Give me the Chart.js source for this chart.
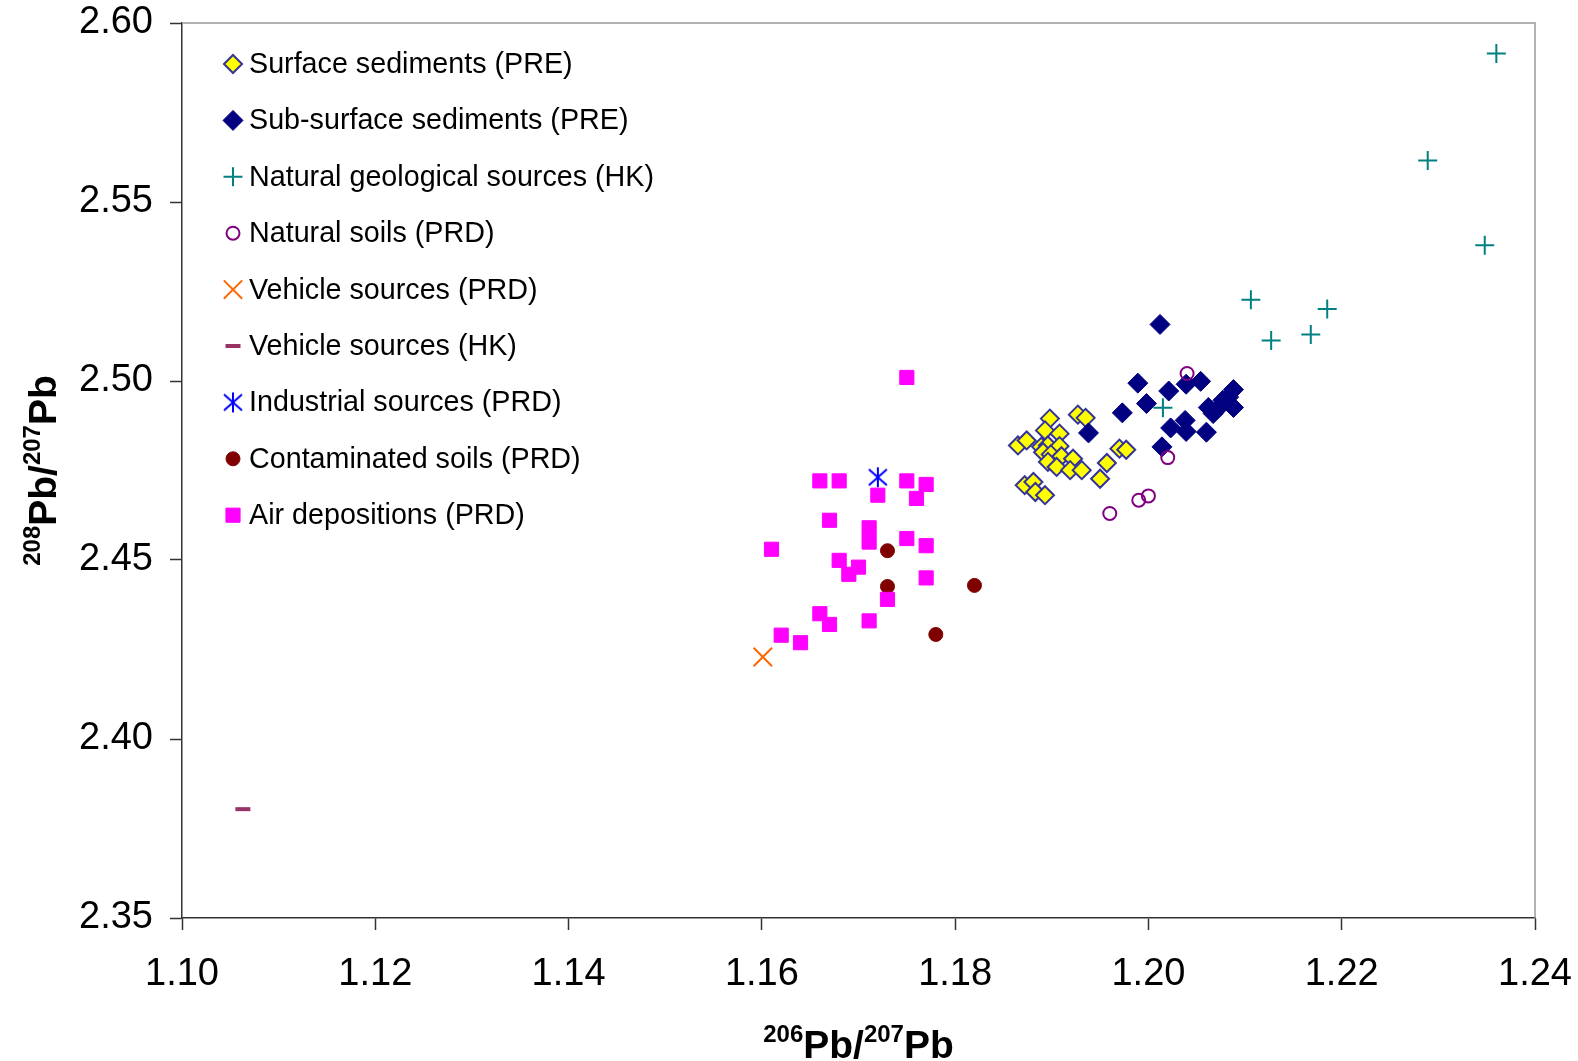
<!DOCTYPE html>
<html>
<head>
<meta charset="utf-8">
<script src="https://cdn.jsdelivr.net/npm/chart.js@4/dist/chart.umd.min.js"></script>
<style>
  html, body { margin: 0; padding: 0; background: #fff; }
  canvas { display: block; }
</style>
</head>
<body>
<canvas id="myChart" width="1578" height="1061"></canvas>
<script>
// values
const surfaceX = [1.1898, 1.1893, 1.1908, 1.1927, 1.1935, 1.1865, 1.1874, 1.1889, 1.1896, 1.1908, 1.1891, 1.1899, 1.1910,
                  1.1896, 1.1905, 1.1922, 1.1919, 1.1931, 1.1970, 1.1977, 1.1957, 1.1950, 1.1872, 1.1881, 1.1883, 1.1893];
const surfaceY = [2.4895, 2.4862, 2.4853, 2.4906, 2.4897, 2.4820, 2.4834, 2.4816, 2.4820, 2.4818, 2.4801, 2.4795, 2.4790,
                  2.4774, 2.4760, 2.4783, 2.4751, 2.4751, 2.4811, 2.4808, 2.4771, 2.4727, 2.4709, 2.4718, 2.4690, 2.4681];

const subSurfaceX = [1.2012, 1.1989, 1.2021, 1.2039, 1.2054, 1.1998, 1.1973, 1.1938, 1.2023, 1.2038,
                     1.2039, 1.2014, 1.2060, 1.2062, 1.2067, 1.2088, 1.2083, 1.2088, 1.2077, 1.2074];
const subSurfaceY = [2.5158, 2.4994, 2.4972, 2.4991, 2.4999, 2.4937, 2.4911, 2.4855, 2.4869, 2.4890,
                     2.4859, 2.4816, 2.4857, 2.4926, 2.4909, 2.4976, 2.4955, 2.4926, 2.4946, 2.4929];

const geoX = [1.2360, 1.2289, 1.2348, 1.2106, 1.2185, 1.2168, 1.2127, 1.2015];
const geoY = [2.5915, 2.5616, 2.5379, 2.5227, 2.5201, 2.5130, 2.5113, 2.4925];

const natSoilX = [1.2040, 1.2020, 1.2000, 1.1990, 1.1960];
const natSoilY = [2.5021, 2.4786, 2.4679, 2.4667, 2.4630];

const vehPrdX = [1.1601];
const vehPrdY = [2.4229];

const vehHkX = [1.1063];
const vehHkY = [2.3804];

const industX = [1.1720];
const industY = [2.4731];

const contamX = [1.1730, 1.1730, 1.1820, 1.1780];
const contamY = [2.4526, 2.4426, 2.4429, 2.4292];

const airX = [1.1750, 1.1660, 1.1680, 1.1750, 1.1770, 1.1720, 1.1760, 1.1670, 1.1711, 1.1711, 1.1750, 1.1770,
              1.1610, 1.1680, 1.1700, 1.1690, 1.1770, 1.1730, 1.1660, 1.1670, 1.1711, 1.1620, 1.1640];
const airY = [2.5010, 2.4721, 2.4721, 2.4721, 2.4711, 2.4681, 2.4672, 2.4611, 2.4590, 2.4550, 2.4560, 2.4540,
              2.4530, 2.4499, 2.4480, 2.4460, 2.4450, 2.4390, 2.4350, 2.4320, 2.4330, 2.4290, 2.4269];

const seriesNames = [
    'Surface sediments (PRE)', 'Sub-surface sediments (PRE)', 'Natural geological sources (HK)',
    'Natural soils (PRD)', 'Vehicle sources (PRD)', 'Vehicle sources (HK)', 'Industrial sources (PRD)',
    'Contaminated soils (PRD)', 'Air depositions (PRD)'
];

const xTicks = [1.10, 1.12, 1.14, 1.16, 1.18, 1.20, 1.22, 1.24];
const yTicks = [2.35, 2.40, 2.45, 2.50, 2.55, 2.60];

const FONT = 'Arial, "Liberation Sans", sans-serif';

const toPoints = (xs, ys) => xs.map((x, i) => ({ x: x, y: ys[i] }));

// Excel-like asterisk marker: vertical stroke plus two diagonals
const asterisk = document.createElement('canvas');
asterisk.width = 22;
asterisk.height = 22;
(() => {
    const c = asterisk.getContext('2d');
    c.strokeStyle = '#0000FF';
    c.lineWidth = 2;
    c.beginPath();
    c.moveTo(11, 1); c.lineTo(11, 21);
    c.moveTo(2, 3); c.lineTo(20, 19);
    c.moveTo(20, 3); c.lineTo(2, 19);
    c.stroke();
})();

const makeSet = (i, xs, ys, style) => Object.assign({
    label: seriesNames[i],
    data: toPoints(xs, ys),
    order: seriesNames.length - i
}, style);

const datasets = [
    makeSet(0, surfaceX, surfaceY, { pointStyle: 'rectRot', pointRadius: 9, backgroundColor: '#FFFF00', borderColor: '#333399', borderWidth: 2 }),
    makeSet(1, subSurfaceX, subSurfaceY, { pointStyle: 'rectRot', pointRadius: 10, backgroundColor: '#000080', borderColor: '#000080', borderWidth: 1 }),
    makeSet(2, geoX, geoY, { pointStyle: 'cross', pointRadius: 9.5, backgroundColor: '#008080', borderColor: '#008080', borderWidth: 2 }),
    makeSet(3, natSoilX, natSoilY, { pointStyle: 'circle', pointRadius: 6.5, backgroundColor: 'rgba(0,0,0,0)', borderColor: '#800080', borderWidth: 2 }),
    makeSet(4, vehPrdX, vehPrdY, { pointStyle: 'crossRot', pointRadius: 13, backgroundColor: '#FF6600', borderColor: '#FF6600', borderWidth: 2 }),
    makeSet(5, vehHkX, vehHkY, { pointStyle: 'line', pointRadius: 7.5, backgroundColor: '#993366', borderColor: '#993366', borderWidth: 4 }),
    makeSet(6, industX, industY, { pointStyle: asterisk, pointRadius: 10, backgroundColor: '#0000FF', borderColor: '#0000FF', borderWidth: 2 }),
    makeSet(7, contamX, contamY, { pointStyle: 'circle', pointRadius: 7, backgroundColor: '#800000', borderColor: '#800000', borderWidth: 1 }),
    makeSet(8, airX, airY, { pointStyle: 'rect', pointRadius: 10, backgroundColor: '#FF00FF', borderColor: '#FF00FF', borderWidth: 1 })
];

// text with superscripts, centred on (0,0) baseline
const drawRich = (ctx, parts) => {
    const main = 'bold 39px ' + FONT, sup = 'bold 24px ' + FONT;
    let total = 0;
    parts.forEach(p => { ctx.font = p.sup ? sup : main; total += ctx.measureText(p.t).width; });
    let x = -total / 2;
    parts.forEach(p => {
        ctx.font = p.sup ? sup : main;
        ctx.fillText(p.t, x, p.sup ? -16 : 0);
        x += ctx.measureText(p.t).width;
    });
};

const extras = {
    id: 'extras',
    beforeDatasetsDraw(chart) {
        const { ctx, chartArea: a } = chart;
        ctx.save();
        ctx.strokeStyle = '#9a9a9a';
        ctx.lineWidth = 1.5;
        ctx.beginPath();
        ctx.moveTo(a.left, a.top);
        ctx.lineTo(a.right, a.top);
        ctx.lineTo(a.right, a.bottom);
        ctx.stroke();
        ctx.restore();
    },
    afterDraw(chart) {
        const { ctx, chartArea: a } = chart;
        ctx.save();
        ctx.fillStyle = '#000';
        ctx.textAlign = 'left';
        ctx.textBaseline = 'alphabetic';

        // axis titles
        ctx.save();
        ctx.translate((a.left + a.right) / 2, 1058);
        drawRich(ctx, [{ t: '206', sup: true }, { t: 'Pb/' }, { t: '207', sup: true }, { t: 'Pb' }]);
        ctx.restore();

        ctx.save();
        ctx.translate(56, (a.top + a.bottom) / 2);
        ctx.rotate(-Math.PI / 2);
        drawRich(ctx, [{ t: '208', sup: true }, { t: 'Pb/' }, { t: '207', sup: true }, { t: 'Pb' }]);
        ctx.restore();

        // legend inside the plot area
        ctx.font = '28.7px ' + FONT;
        ctx.textBaseline = 'middle';
        chart.data.datasets.forEach((ds, i) => {
            const y = 64 + i * 56.4;
            ctx.save();
            ctx.fillStyle = ds.backgroundColor;
            ctx.strokeStyle = ds.borderColor;
            ctx.lineWidth = ds.borderWidth;
            Chart.helpers.drawPoint(ctx, {
                pointStyle: ds.pointStyle, radius: ds.pointRadius,
                borderWidth: ds.borderWidth, rotation: 0
            }, 233, y);
            ctx.restore();
            ctx.fillStyle = '#000';
            ctx.fillText(ds.label, 249, y + 1);
        });
        ctx.restore();
    }
};

const tickFont = { family: FONT, size: 38 };

new Chart(document.getElementById('myChart'), {
    type: 'scatter',
    data: { datasets: datasets },
    options: {
        responsive: false,
        animation: false,
        events: [],
        layout: { padding: { top: 23, right: 43, left: 0, bottom: 0 } },
        plugins: { legend: { display: false }, tooltip: { enabled: false } },
        scales: {
            x: {
                type: 'linear',
                min: xTicks[0],
                max: xTicks[xTicks.length - 1],
                afterBuildTicks: s => { s.ticks = xTicks.map(v => ({ value: v })); },
                afterFit: s => { s.height = 143; s.paddingLeft = 0; s.paddingRight = 0; },
                ticks: { padding: 22, color: '#000', font: tickFont, callback: v => v.toFixed(2) },
                grid: { drawOnChartArea: false, tickLength: 12, tickColor: '#333', tickWidth: 1.5 },
                border: { color: '#333', width: 1.5 }
            },
            y: {
                type: 'linear',
                min: yTicks[0],
                max: yTicks[yTicks.length - 1],
                afterBuildTicks: s => { s.ticks = yTicks.map(v => ({ value: v })); },
                afterFit: s => { s.width = 182; s.paddingTop = 0; s.paddingBottom = 0; },
                ticks: { padding: 17, color: '#000', font: tickFont, callback: v => v.toFixed(2) },
                grid: { drawOnChartArea: false, tickLength: 12, tickColor: '#333', tickWidth: 1.5 },
                border: { color: '#333', width: 1.5 }
            }
        }
    },
    plugins: [extras]
});
</script>
</body>
</html>
